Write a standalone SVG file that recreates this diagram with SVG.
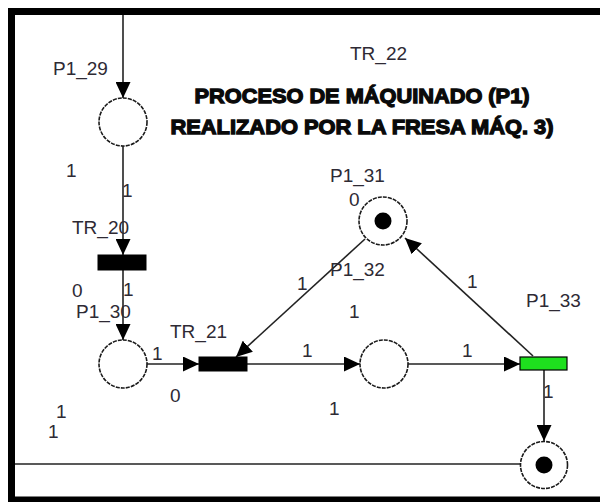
<svg xmlns="http://www.w3.org/2000/svg" width="600" height="502" viewBox="0 0 600 502">
<style>
.pl{fill:#fff;stroke:#1a1a1a;stroke-width:1.6;stroke-dasharray:4 1.1}
.tk{fill:#000}
.tr{fill:#000;stroke:#000;stroke-width:1}
.trg{fill:#1ee01e;stroke:#000;stroke-width:1.2}
.arc{fill:none;stroke:#222;stroke-width:1.6}
.lb{font-family:"Liberation Sans",Arial,sans-serif;font-size:19px;fill:#2e2a34}
.ttl{font-family:"Liberation Sans",Arial,sans-serif;font-size:21px;font-weight:bold;fill:#0a0a0a;stroke:#0a0a0a;stroke-width:1.3}
</style>
<defs>
<marker id="ah" markerUnits="userSpaceOnUse" markerWidth="16" markerHeight="15" refX="16" refY="7.5" orient="auto">
<path d="M0,0 L16,7.5 L0,15 z" fill="#000"/>
</marker>
</defs>
<rect x="0" y="0" width="600" height="502" fill="#fff"/>
<path d="M604,11.5 H11.5 V500 H604" fill="none" stroke="#000" stroke-width="7"/>
<rect x="8" y="497" width="592" height="5" fill="#000"/>

<g id="connectors">
<path class="arc" d="M123,15 L123,98" marker-end="url(#ah)"/>
<path class="arc" d="M123,146 L123,255" marker-end="url(#ah)"/>
<path class="arc" d="M123,270 L123,340" marker-end="url(#ah)"/>
<path class="arc" d="M147,364 L199,364" marker-end="url(#ah)"/>
<path class="arc" d="M247,364 L360,364" marker-end="url(#ah)"/>
<path class="arc" d="M408,364 L520,364" marker-end="url(#ah)"/>
<path class="arc" d="M544,370 L544,441" marker-end="url(#ah)"/>
<path class="arc" d="M533,356 L405,238" marker-end="url(#ah)"/>
<path class="arc" d="M365,239 L236,357" marker-end="url(#ah)"/>
<path class="arc" d="M520,464 L15,464"/>
</g>

<g id="P1_29"><circle class="pl" cx="123" cy="122" r="24"/><text class="lb" x="53" y="75">P1_29</text></g>
<g id="TR_20"><rect class="tr" x="98" y="255" width="48" height="15"/><text class="lb" x="72" y="234">TR_20</text></g>
<g id="P1_30"><circle class="pl" cx="123" cy="364" r="24"/><text class="lb" x="76" y="318">P1_30</text></g>
<g id="TR_21"><rect class="tr" x="199" y="357" width="48" height="14"/><text class="lb" x="170" y="338">TR_21</text></g>
<g id="P1_31"><circle class="pl" cx="383" cy="221" r="24"/><circle class="tk" cx="383" cy="221" r="8.5"/><text class="lb" x="330" y="182">P1_31</text><text class="lb" x="349" y="206">0</text></g>
<g id="P1_32"><circle class="pl" cx="384" cy="364" r="24"/><text class="lb" x="330" y="276">P1_32</text></g>
<g id="P1_33"><rect class="trg" x="520" y="357" width="47" height="13"/><text class="lb" x="526" y="307">P1_33</text></g>
<g id="P1_34"><circle class="pl" cx="544" cy="465" r="23.5"/><circle class="tk" cx="544" cy="465" r="8.5"/></g>
<g id="TR_22"><text class="lb" x="350" y="60">TR_22</text></g>

<g id="arc-labels">
<text class="lb" x="66" y="177">1</text>
<text class="lb" x="122" y="197">1</text>
<text class="lb" x="72" y="297">0</text>
<text class="lb" x="123" y="296">1</text>
<text class="lb" x="152" y="360">1</text>
<text class="lb" x="170" y="402">0</text>
<text class="lb" x="56" y="418">1</text>
<text class="lb" x="48" y="438">1</text>
<text class="lb" x="297" y="290">1</text>
<text class="lb" x="349" y="318">1</text>
<text class="lb" x="302" y="357">1</text>
<text class="lb" x="467" y="288">1</text>
<text class="lb" x="462" y="357">1</text>
<text class="lb" x="329" y="415">1</text>
<text class="lb" x="543" y="398">1</text>
</g>

<g id="title">
<text class="ttl" x="362" y="103" text-anchor="middle" textLength="335" lengthAdjust="spacingAndGlyphs">PROCESO DE MÁQUINADO (P1)</text>
<text class="ttl" x="362" y="134" text-anchor="middle" textLength="383" lengthAdjust="spacingAndGlyphs">REALIZADO POR LA FRESA MÁQ. 3)</text>
</g>
</svg>
